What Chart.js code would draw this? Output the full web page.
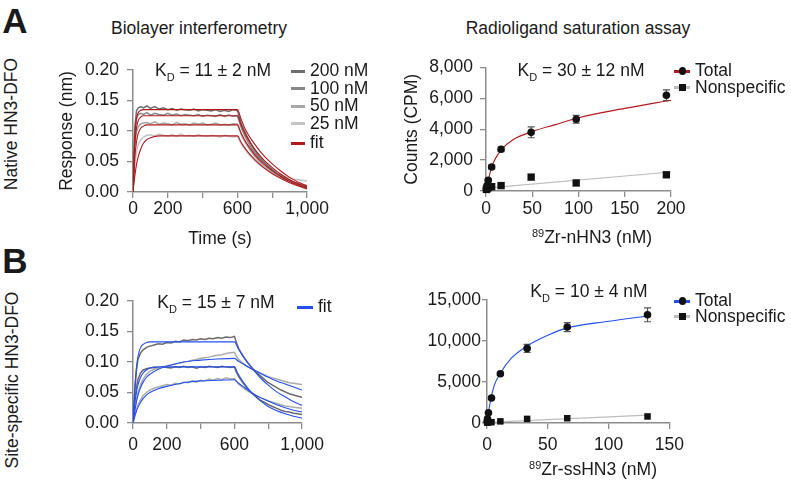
<!DOCTYPE html>
<html>
<head>
<meta charset="utf-8">
<script src="https://cdn.jsdelivr.net/npm/chart.js@4.4.1/dist/chart.umd.min.js"></script>
<style>
body { margin: 0; background: #fff; width: 791px; height: 481px; position: relative; overflow: hidden;
       font-family: 'Liberation Sans', Arial, sans-serif; color: #1a1a1a; }
canvas { position: absolute; }
.t { position: absolute; white-space: nowrap; font-size: 17.5px; line-height: 1; }
.sub { font-size: 11px; position: relative; top: 5px; }
.sup { font-size: 11px; position: relative; top: -6px; }
.sw { position: absolute; height: 3px; }
.mk { position: absolute; background: #111; }
</style>
</head>
<body>
<canvas id="bliA" width="300" height="205" style="left:30px;top:50px"></canvas>
<canvas id="satA" width="320" height="205" style="left:370px;top:50px"></canvas>
<canvas id="bliB" width="300" height="180" style="left:30px;top:280px"></canvas>
<canvas id="satB" width="320" height="180" style="left:370px;top:280px"></canvas>
<script>
// ---- biolayer interferometry, time axis (s)
var rawTime = [0,10,20,30,45,60,80,100,125,150,175,200,225,250,275,300,325,350,375,400,425,450,475,500,525,550,575,600,
               610,625,650,675,700,725,750,775,800,825,850,875,900,925,950,975,1000];
var fitTime = [0,10,20,30,45,60,80,100,150,200,300,400,500,600,620,650,700,750,800,850,900,950,1000];
var bliXLabels = [0, 200, 600, 1000];

// native HN3-DFO traces (nm)
var native200 = [0,0.105,0.133,0.138,0.140,0.138,0.141,0.137,0.140,0.136,0.138,0.135,0.137,0.134,0.136,0.135,0.134,0.136,0.133,0.135,0.134,0.133,0.135,0.132,0.134,0.132,0.135,0.133,
                 0.124,0.110,0.094,0.080,0.068,0.058,0.050,0.043,0.037,0.031,0.027,0.022,0.019,0.015,0.013,0.010,0.008];
var native100 = [0,0.095,0.121,0.127,0.129,0.127,0.130,0.126,0.129,0.127,0.126,0.129,0.126,0.128,0.125,0.127,0.126,0.125,0.127,0.124,0.126,0.125,0.124,0.127,0.124,0.126,0.124,0.125,
                 0.116,0.103,0.088,0.075,0.064,0.055,0.047,0.041,0.035,0.030,0.026,0.022,0.019,0.016,0.013,0.011,0.009];
var native50 = [0,0.075,0.099,0.107,0.112,0.113,0.114,0.112,0.115,0.111,0.113,0.112,0.110,0.114,0.111,0.112,0.110,0.113,0.111,0.113,0.110,0.111,0.113,0.110,0.111,0.110,0.112,0.111,
                0.103,0.092,0.079,0.068,0.058,0.050,0.043,0.037,0.032,0.028,0.024,0.021,0.018,0.016,0.014,0.012,0.010];
var native25 = [0,0.045,0.066,0.078,0.086,0.090,0.093,0.094,0.092,0.095,0.093,0.092,0.094,0.091,0.095,0.092,0.093,0.091,0.094,0.092,0.091,0.093,0.092,0.090,0.093,0.091,0.090,0.091,
                0.085,0.077,0.067,0.058,0.051,0.045,0.040,0.036,0.032,0.029,0.027,0.025,0.023,0.021,0.020,0.019,0.018];
var nativeFit200 = [0,0.090,0.120,0.130,0.134,0.135,0.135,0.135,0.135,0.135,0.135,0.135,0.135,0.135,0.120,0.100,0.078,0.060,0.046,0.034,0.024,0.016,0.010];
var nativeFit100 = [0,0.075,0.105,0.117,0.123,0.125,0.125,0.125,0.125,0.125,0.125,0.125,0.125,0.125,0.110,0.092,0.070,0.053,0.040,0.029,0.020,0.013,0.008];
var nativeFit50 = [0,0.055,0.082,0.096,0.105,0.108,0.110,0.110,0.110,0.110,0.110,0.110,0.110,0.110,0.097,0.081,0.061,0.046,0.035,0.025,0.017,0.011,0.006];
var nativeFit25 = [0,0.025,0.045,0.058,0.071,0.080,0.086,0.089,0.092,0.092,0.092,0.092,0.092,0.092,0.082,0.069,0.053,0.040,0.030,0.022,0.015,0.010,0.005];

// site-specific HN3-DFO traces (nm)
var site1 = [0,0.050,0.085,0.105,0.115,0.120,0.124,0.126,0.128,0.130,0.129,0.132,0.131,0.134,0.133,0.136,0.135,0.137,0.136,0.138,0.137,0.139,0.138,0.140,0.139,0.141,0.140,0.142,
             0.133,0.122,0.110,0.100,0.092,0.084,0.078,0.072,0.066,0.062,0.058,0.054,0.051,0.048,0.046,0.044,0.042];
var site2 = [0,0.020,0.038,0.050,0.063,0.072,0.080,0.085,0.088,0.090,0.092,0.094,0.095,0.097,0.098,0.100,0.101,0.103,0.104,0.106,0.107,0.108,0.110,0.111,0.112,0.114,0.115,0.116,
             0.110,0.104,0.098,0.093,0.089,0.085,0.082,0.079,0.076,0.074,0.072,0.070,0.068,0.066,0.065,0.064,0.063];
var site3 = [0,0.035,0.058,0.072,0.082,0.087,0.089,0.090,0.091,0.090,0.092,0.091,0.090,0.092,0.091,0.093,0.091,0.092,0.090,0.092,0.091,0.093,0.092,0.091,0.093,0.092,0.091,0.092,
             0.084,0.076,0.066,0.057,0.050,0.044,0.038,0.034,0.030,0.027,0.024,0.021,0.019,0.018,0.016,0.015,0.014];
var site4 = [0,0.012,0.022,0.030,0.038,0.045,0.050,0.054,0.057,0.059,0.061,0.063,0.062,0.065,0.064,0.067,0.066,0.069,0.067,0.070,0.069,0.072,0.070,0.073,0.071,0.074,0.072,0.073,
             0.069,0.064,0.058,0.053,0.049,0.045,0.042,0.039,0.036,0.034,0.032,0.030,0.028,0.027,0.026,0.025,0.024];
var siteFit1 = [0,0.055,0.090,0.110,0.124,0.129,0.132,0.133,0.133,0.133,0.133,0.133,0.133,0.133,0.123,0.110,0.091,0.075,0.062,0.051,0.043,0.035,0.029];
var siteFit2 = [0,0.018,0.034,0.046,0.058,0.067,0.075,0.080,0.088,0.093,0.100,0.103,0.105,0.106,0.102,0.097,0.089,0.082,0.075,0.069,0.064,0.059,0.054];
var siteFit3 = [0,0.030,0.050,0.063,0.075,0.082,0.087,0.090,0.092,0.092,0.092,0.092,0.092,0.092,0.081,0.068,0.050,0.037,0.027,0.020,0.015,0.011,0.008];
var siteFit4 = [0,0.010,0.019,0.026,0.034,0.040,0.046,0.050,0.056,0.060,0.066,0.069,0.070,0.071,0.066,0.060,0.050,0.042,0.036,0.030,0.025,0.021,0.018];

// radioligand saturation, 89Zr-nHN3
var nConc = [0.4, 1.2, 2.4, 6.1, 16.3, 48.8, 97.5, 195];
var nTotal = [150, 350, 700, 1550, 2700, 3800, 4650, 6200];
var nTotalErr = [50, 80, 100, 120, 150, 350, 250, 350];
var nNonspec = [100, 150, 220, 280, 350, 900, 520, 1050];
var nFitX = [0, 1.5, 4, 8, 17, 30, 50, 75, 100, 150, 200];
var nFitY = [0, 300, 1100, 1850, 2700, 3350, 3850, 4300, 4750, 5350, 5880];
var nNsX = [0, 200];
var nNsY = [180, 1230];

// radioligand saturation, 89Zr-ssHN3
var sConc = [0.14, 0.4, 1.2, 3.7, 11, 33, 66, 132];
var sTotal = [150, 500, 1250, 3050, 6000, 9100, 11700, 13200];
var sTotalErr = [50, 80, 100, 150, 200, 500, 550, 850];
var sNonspec = [50, 80, 100, 100, 200, 500, 580, 800];
var sFitX = [0, 1, 3.3, 6, 10.7, 20, 33, 50, 66, 100, 132];
var sFitY = [0, 1100, 3000, 4600, 6000, 7900, 9400, 10700, 11600, 12400, 13050];
var sNsX = [0, 132];
var sNsY = [80, 950];

var axisGrey = '#8c8c8c';
var red = '#b3191b';
var blue = '#2250f2';

Chart.defaults.font.family = "'Liberation Sans', Arial, sans-serif";
Chart.defaults.font.size = 17.5;
Chart.defaults.color = '#1a1a1a';

var pts = (xs, ys) => xs.map((x, i) => ({x: x, y: ys[i]}));
var fmt = v => v.toLocaleString('en-US');

// vertical error bars through the y scale
var errorBars = {
    id: 'errorBars',
    beforeDatasetsDraw(chart) {
        var ctx = chart.ctx, ys = chart.scales.y;
        chart.data.datasets.forEach((ds, i) => {
            if (!ds.errors) return;
            var meta = chart.getDatasetMeta(i);
            ctx.save();
            ctx.strokeStyle = '#555';
            ctx.lineWidth = 1.2;
            meta.data.forEach((p, j) => {
                var v = ds.data[j].y, e = ds.errors[j];
                var top = ys.getPixelForValue(v + e), bot = ys.getPixelForValue(v - e);
                ctx.beginPath();
                ctx.moveTo(p.x, top); ctx.lineTo(p.x, bot);
                ctx.moveTo(p.x - 3.5, top); ctx.lineTo(p.x + 3.5, top);
                ctx.moveTo(p.x - 3.5, bot); ctx.lineTo(p.x + 3.5, bot);
                ctx.stroke();
            });
            ctx.restore();
        });
    }
};

var axisBase = (o) => ({
    type: 'linear', min: o.min, max: o.max,
    ticks: {stepSize: o.step, padding: o.pad, autoSkip: false, maxRotation: 0, callback: o.cb},
    grid: {drawOnChartArea: false, tickLength: o.tl, color: axisGrey, lineWidth: 1.3},
    border: {color: axisGrey, width: 1.5},
    title: o.title ? {display: true, text: o.title, padding: o.tpad} : {display: false},
    afterFit: o.fit
});

var baseOptions = (pad, x, y) => ({
    responsive: false, animation: false, events: [],
    layout: {padding: pad},
    plugins: {legend: {display: false}, tooltip: {enabled: false}},
    scales: {x: axisBase(x), y: axisBase(y)}
});

var trace = (xs, ys, color) => ({data: pts(xs, ys), borderColor: color, borderWidth: 1.5, pointRadius: 0, fill: false, order: 2});
var fitLine = (xs, ys, color) => ({data: pts(xs, ys), borderColor: color, borderWidth: 1.1, pointRadius: 0, fill: false,
                                   cubicInterpolationMode: 'monotone', order: 0});

var bliX = (pad, title) => ({min: 0, max: 1000, step: 200, pad: pad, tl: 6,
    cb: v => bliXLabels.includes(v) ? fmt(v) : '', title: title, tpad: {top: 0, bottom: 5}});
var bliY = (title) => ({min: 0, max: 0.2, step: 0.05, pad: 8, tl: 6, cb: v => v.toFixed(2),
    title: title, tpad: {top: 27, bottom: 0}, fit: s => { s.width = 103; }});

// panel A, BLI
var optA = baseOptions({top: 20, right: 13, left: 0, bottom: 0},
    Object.assign(bliX(1, 'Time (s)'), {fit: s => { s.height = 63; }}), bliY('Response (nm)'));
new Chart(document.getElementById('bliA'), {
    type: 'line',
    data: {datasets: [
        fitLine(fitTime, nativeFit200, red), fitLine(fitTime, nativeFit100, red),
        fitLine(fitTime, nativeFit50, red), fitLine(fitTime, nativeFit25, red),
        trace(rawTime, native200, '#6e6e6e'), trace(rawTime, native100, '#878787'),
        trace(rawTime, native50, '#a6a6a6'), trace(rawTime, native25, '#c4c4c4')
    ]},
    options: optA
});

// panel B, BLI
var optB = baseOptions({top: 21, right: 13, left: 0, bottom: 0},
    Object.assign(bliX(6, null), {fit: s => { s.height = 37; }}), bliY(null));
new Chart(document.getElementById('bliB'), {
    type: 'line',
    data: {datasets: [
        fitLine(fitTime, siteFit1, blue), fitLine(fitTime, siteFit2, blue),
        fitLine(fitTime, siteFit3, blue), fitLine(fitTime, siteFit4, blue),
        trace(rawTime, site1, '#6a6a6a'), trace(rawTime, site2, '#ababab'),
        trace(rawTime, site3, '#6a6a6a'), trace(rawTime, site4, '#ababab')
    ]},
    options: optB
});

var satSets = (conc, total, err, ns, fx, fy, lx, ly, color, r, sq) => [
    {type: 'scatter', data: pts(conc, total), errors: err, pointStyle: 'circle', pointRadius: r,
     backgroundColor: '#111', borderColor: '#111', borderWidth: 0, clip: false, order: 0},
    {type: 'scatter', data: pts(conc, ns), pointStyle: 'rect', pointRadius: sq,
     backgroundColor: '#111', borderColor: '#111', borderWidth: 0, clip: false, order: 0},
    {type: 'line', data: pts(fx, fy), borderColor: color, borderWidth: 1.1, pointRadius: 0,
     cubicInterpolationMode: 'monotone', order: 1},
    {type: 'line', data: pts(lx, ly), borderColor: '#bdbdbd', borderWidth: 1.2, pointRadius: 0, order: 1}
];

// panel A, saturation
new Chart(document.getElementById('satA'), {
    type: 'scatter',
    data: {datasets: satSets(nConc, nTotal, nTotalErr, nNonspec, nFitX, nFitY, nNsX, nNsY, red, 3.8, 5.2)},
    options: baseOptions({top: 16, right: 19, left: 0, bottom: 0},
        {min: 0, max: 200, step: 50, pad: 2, tl: 6, cb: fmt, fit: s => { s.height = 64; }},
        {min: 0, max: 8000, step: 2000, pad: 7, tl: 6, cb: fmt, title: 'Counts (CPM)',
         tpad: {top: 32, bottom: 0}, fit: s => { s.width = 116; }}),
    plugins: [errorBars]
});

// panel B, saturation
new Chart(document.getElementById('satB'), {
    type: 'scatter',
    data: {datasets: satSets(sConc, sTotal, sTotalErr, sNonspec, sFitX, sFitY, sNsX, sNsY, blue, 3.8, 4.6)},
    options: baseOptions({top: 20, right: 20, left: 0, bottom: 0},
        {min: 0, max: 150, step: 50, pad: 6, tl: 6, cb: fmt, fit: s => { s.height = 37; }},
        {min: 0, max: 15000, step: 5000, pad: 1, tl: 5, cb: fmt, fit: s => { s.width = 117; }}),
    plugins: [errorBars]
});

// ---- text and legends
function text(html, x, y, style, anchor) {
    var d = document.createElement('div');
    d.className = 't';
    d.innerHTML = html;
    d.style.left = x + 'px';
    d.style.top = y + 'px';
    d.style.transform = anchor === 'left' ? 'translate(0,-50%)' : 'translate(-50%,-50%)';
    if (style) d.style.cssText += style;
    document.body.appendChild(d);
    return d;
}
function swatch(x1, x2, y, color) {
    var d = document.createElement('div');
    d.className = 'sw';
    d.style.cssText += 'left:' + x1 + 'px;width:' + (x2 - x1) + 'px;top:' + (y - 1.5) + 'px;background:' + color;
    document.body.appendChild(d);
}
function marker(x, y, size, round) {
    var d = document.createElement('div');
    d.className = 'mk';
    d.style.cssText += 'left:' + (x - size / 2) + 'px;top:' + (y - size / 2) + 'px;width:' + size + 'px;height:' + size + 'px;' +
        (round ? 'border-radius:50%' : '');
    document.body.appendChild(d);
}

text('A', 15, 20, 'font-weight:bold;font-size:35px');
text('B', 15, 260, 'font-weight:bold;font-size:35px');
text('Biolayer interferometry', 199, 29);
text('Radioligand saturation assay', 578, 29);
text('Native HN3-DFO', 12, 124, null).style.transform = 'translate(-50%,-50%) rotate(-90deg)';
text('Site-specific HN3-DFO', 12.5, 380, null).style.transform = 'translate(-50%,-50%) rotate(-90deg)';

text('K<span class="sub">D</span> = 11 ± 2 nM', 213, 71);
text('K<span class="sub">D</span> = 30 ± 12 nM', 581, 71);
text('K<span class="sub">D</span> = 15 ± 7 nM', 216, 303);
text('K<span class="sub">D</span> = 10 ± 4 nM', 589, 292);

text('<span class="sup">89</span>Zr-nHN3 (nM)', 592, 238);
text('<span class="sup">89</span>Zr-ssHN3 (nM)', 593, 470);

var legA = [['200 nM', '#6e6e6e', 71], ['100 nM', '#878787', 88.5], ['50 nM', '#a6a6a6', 106], ['25 nM', '#c4c4c4', 123.5], ['fit', red, 143]];
legA.forEach(l => { swatch(291, 305, l[2], l[1]); text(l[0], 310, l[2], null, 'left'); });
swatch(297, 313, 307, blue); text('fit', 318, 307, null, 'left');

function satLegend(y1, y2, color) {
    swatch(674, 690, y1, color); marker(682.5, y1, 7.5, true); text('Total', 695, y1, null, 'left');
    swatch(674, 690, y2, '#bdbdbd'); marker(682.5, y2, 7, false); text('Nonspecific', 695, y2, null, 'left');
}
satLegend(71, 87.5, red);
satLegend(301, 316.5, blue);
</script>
</body>
</html>
